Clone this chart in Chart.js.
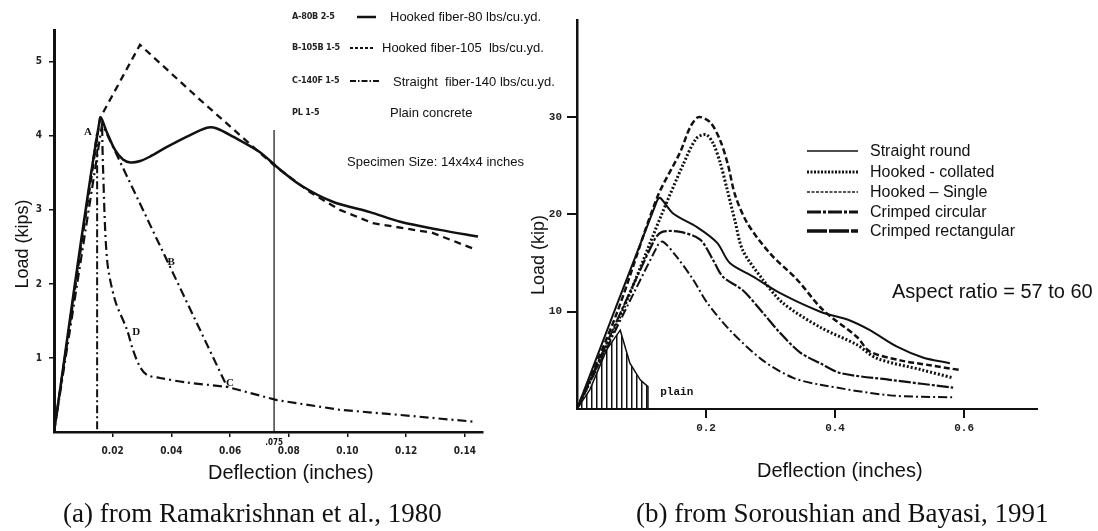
<!DOCTYPE html>
<html>
<head>
<meta charset="utf-8">
<script src="https://cdn.jsdelivr.net/npm/chart.js@4.4.1/dist/chart.umd.min.js"></script>
<style>
  body { margin: 0; background: #fff; }
  #page { position: relative; width: 1098px; height: 531px; overflow: hidden; background: #fff;
          font-family: 'Liberation Sans', Arial, sans-serif; color: #111; }
  #page canvas { position: absolute; top: 0; }
  .t { position: absolute; white-space: pre; line-height: 1; }
  .code { font-family: 'DejaVu Sans Condensed', 'Liberation Sans Narrow', 'Liberation Sans', sans-serif;
          font-weight: bold; font-size: 9px; color: #222; letter-spacing: -0.2px; }
  .s13 { font-size: 13px; }
  .s16 { font-size: 16px; }
  .s20 { font-size: 20px; }
  .rot { font-size: 18px; transform: translate(-50%, -50%) rotate(-90deg); }
  .cap { font-family: 'Liberation Serif', 'Times New Roman', serif; font-size: 27px; }
  svg { position: absolute; left: 0; top: 0; }
</style>
</head>
<body>
<div id="page">
  <canvas id="chartA" width="500" height="500" style="left:0"></canvas>
  <canvas id="chartB" width="578" height="500" style="left:520px"></canvas>

  <!-- legend line samples -->
  <svg width="1098" height="531">
    <g stroke="#111" fill="none">
      <line x1="357" y1="17" x2="376" y2="17" stroke-width="2.5"/>
      <line x1="350" y1="48" x2="373" y2="48" stroke-width="1.8" stroke-dasharray="3,2"/>
      <line x1="350" y1="81" x2="380" y2="81" stroke-width="2" stroke-dasharray="6,2,1.5,2"/>
      <line x1="807" y1="151" x2="858" y2="151" stroke-width="1.5"/>
      <line x1="807" y1="172" x2="858" y2="172" stroke-width="3" stroke-dasharray="2,1.5"/>
      <line x1="807" y1="192" x2="858" y2="192" stroke-width="2" stroke-dasharray="3,1.5" stroke="#555"/>
      <line x1="807" y1="212" x2="858" y2="212" stroke-width="3" stroke-dasharray="14,2,3,2"/>
      <line x1="807" y1="231" x2="858" y2="231" stroke-width="3.5" stroke-dasharray="20,2"/>
    </g>
  </svg>

  <!-- panel (a) texts -->
  <div class="t code" style="left:292px; top:12px">A-80B 2-5</div>
  <div class="t code" style="left:292px; top:43px">B-105B 1-5</div>
  <div class="t code" style="left:292px; top:76px">C-140F 1-5</div>
  <div class="t code" style="left:292px; top:108px">PL 1-5</div>
  <div class="t s13" style="left:390px; top:10px">Hooked fiber-80 lbs/cu.yd.</div>
  <div class="t s13" style="left:382px; top:41px">Hooked fiber-105  lbs/cu.yd.</div>
  <div class="t s13" style="left:393px; top:75px">Straight  fiber-140 lbs/cu.yd.</div>
  <div class="t s13" style="left:390px; top:106px">Plain concrete</div>
  <div class="t s13" style="left:347px; top:155px">Specimen Size: 14x4x4 inches</div>
  <div class="t rot" style="left:22px; top:244px">Load (kips)</div>
  <div class="t s20" style="left:208px; top:462px">Deflection (inches)</div>
  <div class="t cap" style="left:63px; top:500px">(a) from Ramakrishnan et al., 1980</div>

  <!-- panel (b) texts -->
  <div class="t rot" style="left:538px; top:255px">Load (kip)</div>
  <div class="t s16" style="left:870px; top:143px">Straight round</div>
  <div class="t s16" style="left:870px; top:164px">Hooked - collated</div>
  <div class="t s16" style="left:870px; top:184px">Hooked – Single</div>
  <div class="t s16" style="left:870px; top:204px">Crimped circular</div>
  <div class="t s16" style="left:870px; top:223px">Crimped rectangular</div>
  <div class="t s20" style="left:892px; top:281px">Aspect ratio = 57 to 60</div>
  <div class="t s20" style="left:757px; top:460px">Deflection (inches)</div>
  <div class="t cap" style="left:636px; top:500px">(b) from Soroushian and Bayasi, 1991</div>
</div>

<script>
// ---- panel (a): Ramakrishnan et al., 1980 (deflection in, load kips) ----
const hooked80X  = [0, 0.0157, 0.018, 0.0208, 0.0235, 0.026, 0.0294, 0.0327, 0.0385, 0.0453, 0.0521, 0.0555, 0.061, 0.0702, 0.076, 0.0838, 0.095, 0.1077, 0.118, 0.1315, 0.1445];
const hooked80Y  = [0, 4.24, 4.05, 3.81, 3.68, 3.64, 3.66, 3.72, 3.85, 3.99, 4.11, 4.10, 3.99, 3.78, 3.58, 3.34, 3.11, 2.97, 2.84, 2.73, 2.64];
const hooked105X = [0, 0.0157, 0.0293, 0.0497, 0.0702, 0.076, 0.0872, 0.0974, 0.1087, 0.129, 0.144];
const hooked105Y = [0, 4.24, 5.23, 4.49, 3.77, 3.57, 3.24, 3.00, 2.82, 2.69, 2.46];
const straight140X = [0, 0.0164, 0.059, 0.076, 0.0974, 0.118, 0.1428];
const straight140Y = [0, 4.16, 0.61, 0.43, 0.30, 0.23, 0.14];
const branchDX = [0.0164, 0.0167, 0.0181, 0.0208, 0.0249, 0.0269, 0.0293, 0.0317, 0.0361, 0.045, 0.059];
const branchDY = [4.12, 3.58, 2.32, 1.78, 1.38, 1.11, 0.88, 0.77, 0.73, 0.67, 0.61];
const plainAX = [0, 0.0147, 0.0147];
const plainAY = [0, 4.05, 0];
const markerX = [0.075, 0.075];
const markerY = [0, 4.08];
const curveMarkText = ['A', 'B', 'D', 'C'];
const curveMarkX = [0.0116, 0.0399, 0.028, 0.060];
const curveMarkY = [4.05, 2.30, 1.35, 0.66];

// ---- panel (b): Soroushian and Bayasi, 1991 (deflection in, load kip) ----
const hookedSingleX = [0, 0.062, 0.124, 0.16, 0.175, 0.188, 0.206, 0.222, 0.234, 0.245, 0.264, 0.299, 0.341, 0.381, 0.434, 0.454, 0.501, 0.547, 0.594];
const hookedSingleY = [0, 9.9, 21.7, 26.4, 28.9, 30.0, 29.5, 27.6, 25.1, 22.0, 19.1, 16.0, 13.3, 10.2, 7.4, 5.9, 5.0, 4.5, 4.0];
const hookedCollX = [0, 0.07, 0.13, 0.165, 0.185, 0.2, 0.211, 0.222, 0.233, 0.245, 0.257, 0.288, 0.319, 0.377, 0.434, 0.465, 0.536, 0.583];
const hookedCollY = [0, 10.0, 19.8, 25.2, 27.8, 28.2, 27.3, 25.3, 22.5, 19.3, 16.3, 13.3, 10.9, 8.4, 6.6, 5.2, 4.0, 3.2];
const crimpRectX = [0, 0.124, 0.129, 0.149, 0.186, 0.217, 0.237, 0.273, 0.315, 0.377, 0.423, 0.454, 0.496, 0.536, 0.578];
const crimpRectY = [0, 21.4, 21.7, 20.1, 18.7, 17.1, 15.0, 13.6, 11.9, 10.0, 9.1, 8.1, 6.4, 5.3, 4.7];
const crimpCircX = [0, 0.12, 0.132, 0.16, 0.191, 0.211, 0.226, 0.257, 0.288, 0.315, 0.346, 0.377, 0.408, 0.485, 0.583];
const crimpCircY = [0, 17.4, 18.2, 18.2, 17.4, 15.3, 13.6, 12.2, 9.9, 7.8, 5.8, 4.7, 3.7, 3.0, 2.2];
const straightRoundX = [0, 0.125, 0.133, 0.155, 0.18, 0.202, 0.237, 0.288, 0.335, 0.377, 0.485, 0.583];
const straightRoundY = [0, 16.8, 17.2, 15.6, 13.3, 10.9, 8.1, 5.0, 3.2, 2.5, 1.4, 1.2];
const plainBX = [0, 0.02, 0.046, 0.067, 0.082, 0.098, 0.11, 0.11];
const plainBY = [0, 2.0, 6.1, 8.1, 4.7, 3.0, 2.3, 0];

const xTicksA = [0.02, 0.04, 0.06, 0.08, 0.10, 0.12, 0.14];
const yTicksA = [1, 2, 3, 4, 5];
const xTicksB = [0.2, 0.4, 0.6];
const yTicksB = [10, 20, 30];

const ink = '#111';
const pts = (xs, ys) => xs.map((x, i) => ({ x: x, y: ys[i] }));

function line(label, xs, ys, width, dash, tension) {
  return {
    label: label,
    data: pts(xs, ys),
    showLine: true,
    borderColor: ink,
    borderWidth: width,
    borderDash: dash,
    tension: tension,
    pointRadius: 0,
    fill: false
  };
}

// fixes the box of a scale so the plot area lands where the scan has it
const fixWidth = w => scale => { scale.width = w; scale.paddingTop = 0; scale.paddingBottom = 0; };
const fixHeight = h => scale => { scale.height = h; scale.paddingLeft = 0; scale.paddingRight = 0; };
const onlyTicks = list => scale => { scale.ticks = list.map(v => ({ value: v })); };

const scanFont = { family: "'DejaVu Sans Condensed', 'Liberation Sans Narrow', sans-serif", size: 10, weight: 'bold' };
const monoFont = { family: "'Liberation Mono', 'DejaVu Sans Mono', monospace", size: 11, weight: 'bold' };

const labelsA = {
  id: 'labelsA',
  afterDatasetsDraw(chart) {
    const { ctx, scales: { x, y } } = chart;
    ctx.save();
    ctx.fillStyle = ink;
    ctx.textAlign = 'center';
    ctx.textBaseline = 'middle';
    ctx.font = "bold 11px 'Liberation Serif', serif";
    curveMarkText.forEach((t, i) => {
      ctx.fillText(t, x.getPixelForValue(curveMarkX[i]), y.getPixelForValue(curveMarkY[i]));
    });
    ctx.font = "bold 8px 'DejaVu Sans Condensed', sans-serif";
    ctx.fillText('.075', x.getPixelForValue(0.075), y.bottom + 11);
    ctx.restore();
  }
};

new Chart(document.getElementById('chartA'), {
  type: 'scatter',
  data: {
    datasets: [
      line('Plain concrete', plainAX, plainAY, 2, [8, 3, 2, 3], 0),
      line('.075', markerX, markerY, 1.2, [], 0),
      line('Straight fiber-140 lbs/cu.yd.', straight140X, straight140Y, 2.2, [9, 4, 2, 4], 0),
      line('Straight fiber-140 (D)', branchDX, branchDY, 2.2, [9, 4, 2, 4], 0.3),
      line('Hooked fiber-105 lbs/cu.yd.', hooked105X, hooked105Y, 2.3, [7, 5], 0),
      line('Hooked fiber-80 lbs/cu.yd.', hooked80X, hooked80Y, 2.5, [], 0.3)
    ]
  },
  options: {
    responsive: false,
    animation: false,
    devicePixelRatio: 1,
    layout: { padding: { top: 30, right: 17, left: 0, bottom: 0 } },
    plugins: { legend: { display: false }, tooltip: { enabled: false } },
    scales: {
      x: {
        type: 'linear', min: 0, max: 0.1462,
        afterFit: fixHeight(68),
        afterBuildTicks: onlyTicks(xTicksA),
        ticks: { callback: v => v.toFixed(2), font: scanFont, color: '#222', padding: 8, maxRotation: 0, autoSkip: false },
        grid: { drawOnChartArea: false, tickLength: 5, lineWidth: 1.5, color: ink },
        border: { color: ink, width: 2.5 }
      },
      y: {
        type: 'linear', min: 0, max: 5.43,
        afterFit: fixWidth(54),
        afterBuildTicks: onlyTicks(yTicksA),
        ticks: { font: scanFont, color: '#222', padding: 7 },
        grid: { drawOnChartArea: false, tickLength: 5, lineWidth: 1.5, color: ink },
        border: { color: ink, width: 3 }
      }
    }
  },
  plugins: [labelsA]
});

// vertical hatching for the plain-concrete area
const hatchTile = document.createElement('canvas');
hatchTile.width = 5;
hatchTile.height = 10;
const ht = hatchTile.getContext('2d');
ht.fillStyle = ink;
ht.fillRect(1, 0, 1.5, 10);
const hatch = document.getElementById('chartB').getContext('2d').createPattern(hatchTile, 'repeat');

const labelsB = {
  id: 'labelsB',
  afterDatasetsDraw(chart) {
    const { ctx, scales: { x, y } } = chart;
    ctx.save();
    ctx.fillStyle = ink;
    ctx.textAlign = 'left';
    ctx.textBaseline = 'middle';
    ctx.font = "bold 11px 'Liberation Mono', monospace";
    ctx.fillText('plain', x.getPixelForValue(0.129), y.getPixelForValue(1.75));
    ctx.restore();
  }
};

const plainB = line('plain', plainBX, plainBY, 1.5, [], 0);
plainB.fill = 'origin';
plainB.backgroundColor = hatch;

new Chart(document.getElementById('chartB'), {
  type: 'scatter',
  data: {
    datasets: [
      plainB,
      line('Straight round', straightRoundX, straightRoundY, 2, [9, 3, 2, 3], 0.3),
      line('Crimped circular', crimpCircX, crimpCircY, 2.2, [12, 2, 3, 2], 0.3),
      line('Crimped rectangular', crimpRectX, crimpRectY, 2, [], 0.3),
      line('Hooked - collated', hookedCollX, hookedCollY, 3, [2, 2], 0.3),
      line('Hooked – Single', hookedSingleX, hookedSingleY, 2.5, [6, 3], 0.3)
    ]
  },
  options: {
    responsive: false,
    animation: false,
    devicePixelRatio: 1,
    layout: { padding: { top: 20, right: 61, left: 0, bottom: 0 } },
    plugins: { legend: { display: false }, tooltip: { enabled: false } },
    scales: {
      x: {
        type: 'linear', min: 0, max: 0.713,
        afterFit: fixHeight(91),
        afterBuildTicks: onlyTicks(xTicksB),
        ticks: { callback: v => v.toFixed(1), font: monoFont, color: '#222', padding: 4, maxRotation: 0, autoSkip: false },
        grid: { drawOnChartArea: false, tickLength: 9, lineWidth: 2, color: ink },
        border: { color: ink, width: 2 }
      },
      y: {
        type: 'linear', min: 0, max: 39.98,
        afterFit: fixWidth(57),
        afterBuildTicks: onlyTicks(yTicksB),
        ticks: { font: monoFont, color: '#222', padding: 5 },
        grid: { drawOnChartArea: false, tickLength: 10, lineWidth: 2, color: ink },
        border: { color: ink, width: 2.5 }
      }
    }
  },
  plugins: [labelsB]
});
</script>
</body>
</html>
